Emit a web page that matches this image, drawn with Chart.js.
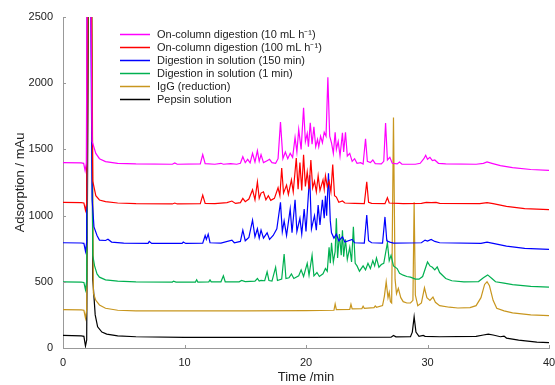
<!DOCTYPE html>
<html>
<head>
<meta charset="utf-8">
<script src="https://cdn.jsdelivr.net/npm/chart.js@4/dist/chart.umd.min.js"></script>
<style>
  body { margin: 0; background: #fff; }
  #wrap { width: 555px; height: 385px; }
</style>
</head>
<body>
<div id="wrap"><canvas id="chart"></canvas></div>
<script>
// chromatograms, [time (min), absorbance (mAu)]

const labels = [
    "On-column digestion (10 mL h\u207B\u00B9)",
    "On-column digestion (100 mL h\u207B\u00B9)",
    "Digestion in solution (150 min)",
    "Digestion in solution (1 min)",
    "IgG (reduction)",
    "Pepsin solution"
];
const colors = ["#ff00ff", "#ff0000", "#0000ff", "#00b050", "#c8961e", "#000000"];
const xTicks = [0, 10, 20, 30, 40];
const yTicks = [0, 500, 1000, 1500, 2000, 2500];

const onColumn10 = [[0,1400],[1.5,1398],[1.7,1395],[1.82,1340],[1.92,1395],[2.02,3500],[2.25,3000],[2.4,1560],[2.7,1470],[3.0,1430],[3.5,1408],[4.5,1395],[6,1390],[9,1388],[9.2,1398],[9.4,1388],[11.3,1390],[11.5,1460],[11.7,1392],[12.5,1388],[13.0,1395],[13.2,1388],[13.8,1392],[14.3,1388],[14.6,1395],[14.8,1445],[15.0,1400],[15.2,1425],[15.4,1398],[15.6,1470],[15.8,1405],[16.0,1490],[16.15,1410],[16.3,1460],[16.5,1400],[16.8,1415],[17.0,1425],[17.2,1400],[17.5,1395],[17.7,1430],[17.9,1706],[18.1,1430],[18.3,1480],[18.5,1430],[18.7,1470],[18.9,1440],[19.1,1590],[19.25,1480],[19.4,1650],[19.6,1500],[19.8,1815],[19.95,1560],[20.1,1620],[20.2,1520],[20.35,1700],[20.5,1540],[20.65,1670],[20.8,1520],[20.95,1575],[21.05,1520],[21.2,1600],[21.35,1550],[21.5,1630],[21.65,1600],[21.8,2045],[21.95,1600],[22.1,1550],[22.25,1470],[22.4,1630],[22.5,1500],[22.65,1560],[22.8,1450],[23.0,1625],[23.1,1480],[23.25,1630],[23.4,1450],[23.6,1470],[23.8,1410],[24.0,1430],[24.2,1395],[24.5,1400],[24.7,1390],[24.9,1580],[25.05,1410],[25.3,1400],[25.5,1420],[25.7,1392],[26.2,1390],[26.4,1410],[26.55,1700],[26.7,1420],[26.9,1440],[27.1,1395],[27.5,1390],[27.7,1405],[27.9,1388],[29.0,1388],[29.4,1395],[29.7,1430],[29.85,1455],[30.0,1425],[30.2,1440],[30.4,1415],[30.6,1420],[30.9,1395],[31.5,1390],[34.0,1388],[34.6,1395],[34.9,1405],[35.3,1395],[36,1378],[37,1362],[38.5,1348],[40,1342]];

const onColumn100 = [[0,1100],[1.5,1098],[1.72,1095],[1.85,1040],[1.95,1095],[2.05,3500],[2.3,3000],[2.45,1260],[2.7,1150],[3.0,1118],[3.5,1105],[4.5,1095],[6,1090],[9,1088],[9.2,1095],[9.4,1088],[11.3,1090],[11.5,1155],[11.7,1092],[12.5,1090],[13.5,1098],[13.9,1110],[14.2,1092],[14.6,1098],[14.8,1130],[15.0,1105],[15.3,1125],[15.6,1195],[15.8,1120],[16.0,1255],[16.15,1130],[16.3,1170],[16.5,1180],[16.7,1120],[16.9,1150],[17.1,1115],[17.4,1130],[17.7,1210],[17.85,1150],[18.0,1360],[18.15,1170],[18.4,1230],[18.55,1160],[18.8,1270],[18.95,1180],[19.2,1435],[19.35,1200],[19.5,1400],[19.65,1190],[19.8,1460],[19.95,1220],[20.1,1330],[20.25,1200],[20.4,1420],[20.55,1210],[20.7,1260],[20.85,1180],[21.0,1300],[21.15,1190],[21.4,1270],[21.5,1200],[21.6,1300],[21.75,1220],[21.9,1260],[22.05,1180],[22.2,1385],[22.35,1150],[22.5,1140],[22.7,1100],[23.0,1110],[23.2,1095],[24.0,1092],[24.8,1090],[25.0,1255],[25.15,1100],[25.4,1092],[26.5,1090],[26.7,1135],[26.85,1095],[28,1090],[29.5,1092],[29.9,1100],[30.3,1098],[30.7,1100],[31,1092],[34.3,1090],[34.9,1098],[35.4,1090],[36.5,1070],[38,1052],[40,1045]];

const solution150 = [[0,795],[1.5,793],[1.72,790],[1.85,730],[1.95,800],[2.0,3500],[2.25,3000],[2.4,1120],[2.55,915],[2.8,850],[3.0,815],[3.5,812],[3.7,822],[4.0,800],[5,792],[7.0,790],[7.1,805],[7.3,790],[9.8,790],[9.9,800],[10.1,790],[11.5,792],[11.7,850],[11.8,820],[11.95,860],[12.1,795],[13.0,792],[13.9,815],[14.1,795],[14.6,805],[14.8,890],[15.0,810],[15.3,835],[15.6,965],[15.8,840],[16.0,900],[16.15,830],[16.3,890],[16.5,830],[16.8,870],[17.0,820],[17.3,850],[17.6,900],[17.9,1100],[18.05,880],[18.2,960],[18.4,850],[18.7,1050],[18.85,870],[19.1,1120],[19.25,880],[19.5,980],[19.65,860],[19.85,1050],[20.0,880],[20.3,1305],[20.45,900],[20.7,1000],[20.85,890],[21.0,1080],[21.15,930],[21.35,1120],[21.5,980],[21.6,1150],[21.7,1000],[21.85,1320],[22.0,960],[22.1,870],[22.3,830],[22.5,860],[22.7,810],[23.0,840],[23.2,800],[23.8,820],[24.0,795],[24.8,792],[25.0,1005],[25.15,810],[25.4,795],[26.3,792],[26.5,990],[26.65,810],[26.9,800],[27.2,792],[29.5,795],[29.8,815],[30.0,808],[30.3,820],[30.6,805],[31,795],[34.4,790],[34.9,800],[35.4,790],[36.5,770],[38,752],[40,745]];

const solution1 = [[0,500],[1.5,498],[1.72,495],[1.85,440],[1.95,505],[2.05,3500],[2.3,3000],[2.45,700],[2.6,620],[2.8,560],[3.0,535],[3.5,515],[4.5,505],[6,500],[9.0,498],[9.1,505],[9.3,498],[10.9,498],[11.0,515],[11.1,498],[12.0,500],[12.1,515],[12.2,500],[13.0,500],[13.2,545],[13.35,500],[14.5,500],[14.7,510],[15.0,502],[15.8,505],[16.0,525],[16.15,505],[16.3,510],[16.6,508],[16.8,575],[16.95,510],[17.2,505],[17.5,610],[17.65,510],[18.0,520],[18.2,710],[18.35,525],[18.6,530],[18.8,560],[19.0,525],[19.4,545],[19.6,590],[19.8,540],[20.1,640],[20.25,550],[20.5,700],[20.65,545],[20.9,570],[21.1,540],[21.4,560],[21.6,600],[21.75,580],[21.9,760],[22.0,640],[22.1,795],[22.25,650],[22.4,730],[22.5,980],[22.6,680],[22.75,860],[22.9,700],[23.0,890],[23.1,690],[23.25,820],[23.4,670],[23.6,760],[23.75,650],[23.9,915],[24.05,640],[24.2,620],[24.4,580],[24.7,620],[24.9,590],[25.1,640],[25.3,600],[25.5,660],[25.65,620],[25.8,680],[26.0,610],[26.2,630],[26.4,640],[26.7,795],[26.85,660],[27.0,700],[27.2,620],[27.5,600],[27.7,565],[28.0,550],[28.3,540],[28.6,535],[29.0,520],[29.3,520],[29.6,540],[30.0,650],[30.2,620],[30.4,610],[30.6,590],[30.8,612],[31.0,570],[31.5,525],[32.0,508],[33,500],[34.2,502],[34.6,530],[34.95,552],[35.3,525],[35.6,500],[36.3,490],[37,478],[38.5,465],[40,460]];

const iggReduction = [[0,290],[1.5,288],[1.72,285],[1.85,225],[1.95,290],[2.1,3500],[2.35,3000],[2.5,415],[2.7,360],[3.0,325],[3.5,300],[4.5,285],[6,280],[15,280],[20,282],[22.3,285],[22.4,332],[22.5,290],[23.6,292],[23.7,330],[23.8,295],[24.6,298],[24.7,315],[24.8,300],[25.6,305],[25.7,318],[25.8,308],[26.3,320],[26.45,390],[26.6,500],[26.75,380],[26.85,420],[26.95,350],[27.05,340],[27.2,1740],[27.33,520],[27.45,410],[27.6,450],[27.8,380],[28.0,350],[28.3,340],[28.6,340],[28.8,360],[28.9,1100],[29.0,400],[29.2,320],[29.5,340],[29.75,455],[29.95,380],[30.2,360],[30.45,385],[30.65,345],[31.0,320],[31.8,308],[32.5,302],[33.5,305],[34.0,320],[34.4,380],[34.7,480],[34.9,500],[35.1,470],[35.4,360],[35.7,300],[36.3,280],[37,265],[38.5,250],[40,245]];

const pepsin = [[0,95],[1.5,92],[1.72,88],[1.85,15],[1.95,60],[2.15,3500],[2.35,3000],[2.45,520],[2.65,250],[2.85,160],[3.2,120],[3.6,105],[4.5,92],[6,85],[10,80],[20,80],[27,82],[27.2,95],[27.4,84],[28.6,86],[28.75,120],[28.9,235],[29.05,120],[29.3,88],[29.65,95],[29.8,88],[31,85],[34,88],[34.6,98],[35,105],[35.4,98],[36,85],[36.3,90],[36.5,75],[37.5,60],[39,45],[40,40]];

const series = [onColumn10, onColumn100, solution150, solution1, iggReduction, pepsin];

// legend inside the plot + short inward ticks
const extras = {
    id: 'extras',
    afterDraw(chart) {
        const c = chart.ctx;
        const xs = chart.scales.x, ys = chart.scales.y;
        c.save();
        c.strokeStyle = '#999';
        c.lineWidth = 1;
        xTicks.forEach(v => {
            const px = Math.round(xs.getPixelForValue(v)) + 0.5;
            c.beginPath(); c.moveTo(px, ys.bottom); c.lineTo(px, ys.bottom - 3); c.stroke();
        });
        yTicks.forEach(v => {
            const py = Math.round(ys.getPixelForValue(v)) + 0.5;
            c.beginPath(); c.moveTo(xs.left, py); c.lineTo(xs.left + 3, py); c.stroke();
        });
        c.font = '11px "Liberation Sans", Arial, sans-serif';
        c.textBaseline = 'middle';
        chart.data.datasets.forEach((ds, i) => {
            const y = 34.5 + i * 13;
            c.strokeStyle = ds.borderColor;
            c.lineWidth = 1.5;
            c.beginPath(); c.moveTo(120, y); c.lineTo(150, y); c.stroke();
            c.fillStyle = '#222';
            c.fillText(ds.label, 157, y);
        });
        c.restore();
    }
};

new Chart(document.getElementById('chart'), {
    type: 'line',
    data: {
        datasets: series.map((s, i) => ({
            label: labels[i],
            data: s.map(p => ({x: p[0], y: p[1]})),
            borderColor: colors[i],
            borderWidth: 1.2,
            pointRadius: 0,
            tension: 0
        }))
    },
    options: {
        responsive: true,
        maintainAspectRatio: false,
        animation: false,
        layout: { padding: { top: 17, right: 0, left: 0, bottom: 0 } },
        plugins: { legend: { display: false }, tooltip: { enabled: false } },
        scales: {
            x: {
                type: 'linear', min: 0, max: 40,
                afterBuildTicks: s => { s.ticks = xTicks.map(v => ({value: v})); },
                afterFit: s => { s.height = 37; s.paddingRight = 6; s.paddingLeft = 0; },
                grid: { drawOnChartArea: false, drawTicks: false },
                border: { color: '#999' },
                ticks: { padding: 8, color: '#222', font: { family: 'Liberation Sans', size: 11 },
                         callback: v => String(v) },
                title: { display: true, text: 'Time /min', color: '#222', padding: { top: 0, bottom: 0 },
                         font: { family: 'Liberation Sans', size: 13 } }
            },
            y: {
                min: 0, max: 2500,
                afterBuildTicks: s => { s.ticks = yTicks.map(v => ({value: v})); },
                afterFit: s => { s.width = 63; },
                grid: { drawOnChartArea: false, drawTicks: false },
                border: { color: '#999' },
                ticks: { padding: 10, color: '#222', font: { family: 'Liberation Sans', size: 11 },
                         callback: v => String(v) },
                title: { display: true, text: 'Adsorption / mAu', color: '#222', padding: { top: 13, bottom: 0 },
                         font: { family: 'Liberation Sans', size: 13 } }
            }
        }
    },
    plugins: [extras]
});
</script>
</body>
</html>
